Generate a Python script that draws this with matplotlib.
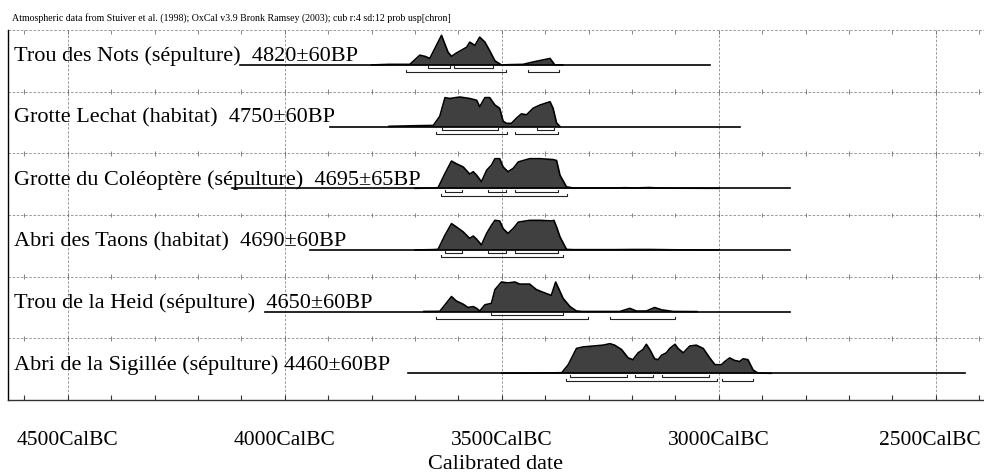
import matplotlib
matplotlib.use("Agg")
import matplotlib.pyplot as plt
from matplotlib.transforms import ScaledTranslation

plt.rcParams['font.family'] = ['Liberation Serif', 'DejaVu Serif']

header = "Atmospheric data from Stuiver et al. (1998); OxCal v3.9 Bronk Ramsey (2003); cub r:4 sd:12 prob usp[chron]"

siteLabels = [
    "Trou des Nots (sépulture)  4820±60BP",
    "Grotte Lechat (habitat)  4750±60BP",
    "Grotte du Coléoptère (sépulture)  4695±65BP",
    "Abri des Taons (habitat)  4690±60BP",
    "Trou de la Heid (sépulture)  4650±60BP",
    "Abri de la Sigillée (sépulture) 4460±60BP",
]

# extent of the calibration line under each date (years BC)
lineStart = [4104, 3896, 4122, 3942, 4046, 3717]
lineEnd = [3021, 2952, 2837, 2837, 2837, 2433]

# probability curves (relative, max = 100)
notsYears = [3800, 3760, 3730, 3712, 3689, 3677, 3666, 3639, 3624, 3616, 3605, 3581, 3574, 3562,
             3551, 3539, 3528, 3516, 3501, 3482, 3451, 3428, 3389, 3378, 3360]
notsProb = [0, 2, 2, 2, 33, 29, 22, 100, 43, 29, 40, 60, 77, 66,
            94, 77, 48, 14, 0, 1, 2, 10, 22, 0, 0]

lechatYears = [3760, 3700, 3658, 3643, 3631, 3620, 3597, 3574, 3558, 3551, 3539, 3528, 3516, 3505,
               3497, 3489, 3478, 3466, 3455, 3443, 3428, 3412, 3389, 3382, 3374, 3366]
lechatProb = [1, 3, 4, 35, 98, 95, 100, 95, 89, 67, 98, 98, 73, 62,
              18, 11, 11, 29, 43, 40, 62, 73, 84, 62, 13, 0]

coleoYears = [3700, 3660, 3647, 3631, 3616, 3605, 3589, 3574, 3566, 3558, 3547, 3535, 3524, 3516,
              3505, 3497, 3486, 3474, 3462, 3436, 3412, 3382, 3374, 3366, 3351, 3336, 3300, 3240,
              3215, 3195, 3160, 3140, 3100, 3000]
coleoProb = [0, 1, 2, 50, 92, 83, 72, 48, 56, 44, 22, 61, 78, 100,
             100, 72, 56, 67, 89, 100, 100, 97, 94, 44, 5, 1, 1, 1,
             2, 1, 2.5, 1, 0.5, 0]

taonsYears = [3700, 3660, 3647, 3631, 3616, 3605, 3589, 3574, 3566, 3558, 3547, 3535, 3524, 3516,
              3505, 3497, 3486, 3474, 3462, 3436, 3412, 3385, 3380, 3374, 3366, 3351, 3336, 3300,
              3240, 3200, 3160, 3100, 3000]
taonsProb = [0, 1, 2, 50, 89, 78, 61, 39, 47, 36, 17, 56, 83, 100,
             98, 72, 56, 72, 94, 100, 100, 98, 100, 78, 44, 2, 1, 1,
             1, 1.5, 1.5, 0.5, 0]

heidYears = [3680, 3643, 3631, 3616, 3605, 3589, 3578, 3566, 3558, 3551, 3539, 3524, 3516, 3501,
             3486, 3470, 3459, 3436, 3420, 3401, 3386, 3376, 3366, 3359, 3343, 3328, 3313, 3228,
             3205, 3190, 3167, 3148, 3132, 3105, 3050]
heidProb = [0.5, 1, 23, 51, 36, 25, 14, 17, 11, 2, 23, 28, 74, 100,
            97, 100, 93, 93, 74, 63, 55, 100, 68, 45, 17, 2, 0.5, 0.5,
            11, 2, 2, 14, 6, 0.5, 0]

sigilleeYears = [3500, 3400, 3362, 3347, 3328, 3313, 3290, 3267, 3251, 3240, 3224, 3209, 3198, 3186,
                 3175, 3167, 3159, 3148, 3140, 3132, 3121, 3113, 3101, 3094, 3082, 3067, 3052, 3036,
                 3021, 3009, 2994, 2986, 2975, 2963, 2952, 2944, 2933, 2921, 2910, 2880]
sigilleeProb = [0.5, 1, 2, 29, 84, 89, 92, 95, 100, 95, 80, 52, 46, 69,
                80, 98, 80, 49, 46, 61, 69, 84, 98, 84, 69, 92, 95, 84,
                52, 29, 29, 40, 52, 43, 40, 49, 46, 11, 1, 0]

# 68.2% and 95.4% ranges (from, to) in years BC
range68 = [
    [(3670, 3620), (3610, 3520)],
    [(3639, 3509), (3420, 3380)],
    [(3631, 3591), (3532, 3491), (3470, 3370)],
    [(3631, 3591), (3532, 3491), (3470, 3370)],
    [(3524, 3360)],
    [(3342, 3211), (3194, 3151), (3132, 3022)],
]
range95 = [
    [(3720, 3491), (3439, 3368)],
    [(3651, 3489), (3470, 3370)],
    [(3641, 3351)],
    [(3641, 3360)],
    [(3652, 3301), (3251, 3101)],
    [(3353, 3005), (2992, 2921)],
]

tickYears = list(range(4600, 2300, -100))
majorYears = [4500, 4000, 3500, 3000, 2500]
majorLabels = ["4500CalBC", "4000CalBC", "3500CalBC", "3000CalBC", "2500CalBC"]

curves = [(notsYears, notsProb), (lechatYears, lechatProb), (coleoYears, coleoProb),
          (taonsYears, taonsProb), (heidYears, heidProb), (sigilleeYears, sigilleeProb)]

fig = plt.figure(figsize=(9.84, 4.73), dpi=100)
ax = fig.add_axes([8 / 984, 73 / 473, 976 / 984, 370 / 473])
ax.set_xlim(4638, 2389)
ax.set_ylim(0, 6)

nRows = len(siteLabels)
gridStyle = dict(color="#8a8a8a", lw=0.6, ls=(0, (3, 2)))

# grid: vertical dashed every 500 years, row separators with small ticks
for yr in majorYears:
    ax.plot([yr, yr], [0, 6], zorder=1, **gridStyle)
for k in range(1, nRows + 1):
    ax.plot([4638, 2389], [k, k], zorder=1, **gridStyle)
    lo = k - 0.04 if k < nRows else k - 0.07
    hi = k + 0.04 if k < nRows else k
    ax.vlines(tickYears, lo, hi, color="#707070", lw=0.6, zorder=1)
ax.vlines(tickYears, 0, 0.08, color="#333333", lw=0.8, zorder=1)

for i in range(nRows):
    bottom = nRows - 1 - i
    base = bottom + 0.433
    ys, ps = curves[i]
    top = [base + 0.48 * p / max(ps) for p in ps]
    ax.fill_between(ys, base, top, color="#404040", lw=0, zorder=3)
    ax.plot(ys, top, color="black", lw=1.2, zorder=4)
    ax.plot([lineStart[i], lineEnd[i]], [base, base], color="black", lw=1.2, zorder=4)
    for (a, b) in range68[i]:
        y = base - 0.055
        ax.plot([a, a, b, b], [y + 0.035, y, y, y + 0.035], color="#222222", lw=0.8, zorder=4)
    for (a, b) in range95[i]:
        y = base - 0.12
        ax.plot([a, a, b, b], [y + 0.035, y, y, y + 0.035], color="#222222", lw=0.8, zorder=4)
    ax.text(4624, base + 0.06, siteLabels[i], fontsize=16, va="baseline", ha="left", zorder=5)

ax.set_xticks(majorYears)
ax.set_xticklabels(majorLabels, fontsize=15.5)
ax.tick_params(axis="x", length=0, pad=22)
ax.set_yticks([])
ax.set_xlabel("Calibrated date", fontsize=16, labelpad=4)

# last label sits flush against the right edge, nudge it in
lastLabel = ax.get_xticklabels()[-1]
lastLabel.set_transform(lastLabel.get_transform() + ScaledTranslation(-4 / 72, 0, fig.dpi_scale_trans))

ax.spines["right"].set_visible(False)
ax.spines["top"].set_visible(False)
ax.spines["left"].set_linewidth(1.0)
ax.spines["bottom"].set_linewidth(1.0)
ax.spines["bottom"].set_color("#333333")

fig.text(12 / 984, 1 - 21 / 473, header, fontsize=7.1, va="baseline", ha="left")

fig.savefig("out.png", dpi=100)
